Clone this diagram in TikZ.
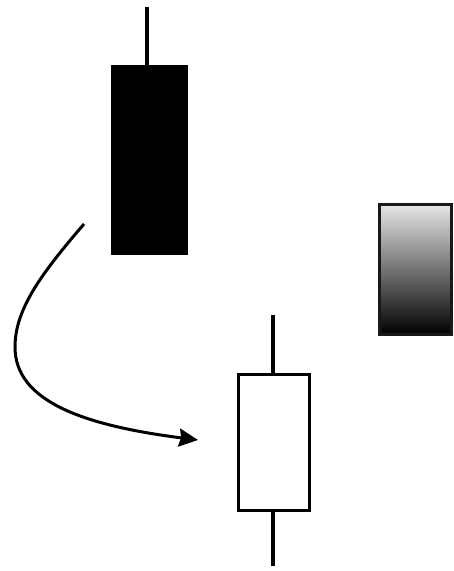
\documentclass[tikz,border=0pt]{standalone}
\usetikzlibrary{arrows.meta}
\begin{document}
\begin{tikzpicture}[x=1pt,y=-1pt,
  body/.style={draw=black,line width=3.4pt,inner sep=0pt,outer sep=0pt},
  wick/.style={line width=3.4pt,black},
  movearrow/.style={line width=3pt,-{Stealth[length=19pt,width=18pt,inset=2pt]}}]
\useasboundingbox (0,0) rectangle (454,571);
% black candle
\node[body,fill=black,minimum width=74pt,minimum height=187pt] (blackbody) at (149.5,160) {};
\coordinate (blacktop) at (147,7);
\draw[wick] (blacktop) -- (blackbody.north -| blacktop);
% gradient box
\node[draw=black!90,line width=2.2pt,top color=white!90!black,bottom color=black,inner sep=0pt,outer sep=0pt,minimum width=72pt,minimum height=130pt] (gradbox) at (415.5,269.5) {};
% white candle
\node[body,fill=white,minimum width=71pt,minimum height=136pt] (whitebody) at (274,442.5) {};
\coordinate (whitetop) at (273,315);
\coordinate (whitebot) at (273,566);
\draw[wick] (whitetop) -- (whitebody.north -| whitetop);
\draw[wick] (whitebody.south -| whitebot) -- (whitebot);
% arrow
\coordinate (arrstart) at (84,224);
\coordinate (arrmid) at (15,347);
\coordinate (arrend) at (198,440);
\draw[movearrow] (arrstart) .. controls (40,275) and (15,310) .. (arrmid) .. controls (15,400) and (80,425) .. (arrend);
\end{tikzpicture}
\end{document}
